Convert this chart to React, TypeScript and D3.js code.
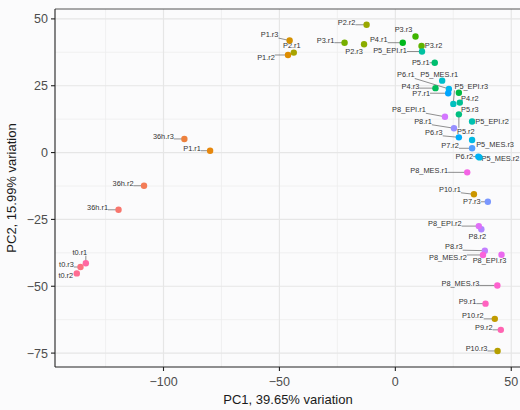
import * as d3 from "d3";
import { useEffect, useRef } from "react";

// samples, sorted the way ggplot orders them for the colour scale
const sampleIds = [
  "36h.r1", "36h.r2", "36h.r3",
  "P1.r1", "P1.r2", "P1.r3",
  "P10.r1", "P10.r2", "P10.r3",
  "P2.r1", "P2.r2", "P2.r3",
  "P3.r1", "P3.r2", "P3.r3",
  "P4.r1", "P4.r2", "P4.r3",
  "P5.r1", "P5.r2", "P5.r3",
  "P5_EPI.r1", "P5_EPI.r2", "P5_EPI.r3",
  "P5_MES.r1", "P5_MES.r2", "P5_MES.r3",
  "P6.r1", "P6.r2", "P6.r3",
  "P7.r1", "P7.r2", "P7.r3",
  "P8.r1", "P8.r2", "P8.r3",
  "P8_EPI.r1", "P8_EPI.r2", "P8_EPI.r3",
  "P8_MES.r1", "P8_MES.r2", "P8_MES.r3",
  "P9.r1", "P9.r2",
  "t0.r1", "t0.r2", "t0.r3",
];

const pc1 = [
  -119.4, -108.4, -91.0,
  -79.9, -46.3, -45.6,
  33.9, 42.9, 44.1,
  -43.8, -12.4, -13.5,
  -21.9, 11.3, 8.7,
  3.2, 27.4, 17.3,
  17.0, 27.4, 27.8,
  11.5, 33.1, 25.0,
  20.2, 36.3, 33.1,
  23.1, 35.8, 27.4,
  22.8, 33.1, 39.9,
  25.3, 37.1, 38.6,
  21.4, 36.0, 45.8,
  31.0, 37.8, 44.0,
  38.9, 45.5,
  -133.5, -137.4, -135.8,
];

const pc2 = [
  -21.4, -12.4, 5.1,
  0.7, 36.5, 41.9,
  -15.6, -62.2, -74.2,
  37.4, 47.8, 40.5,
  41.1, 39.9, 43.4,
  41.1, 22.4, 24.1,
  33.6, 14.3, 18.7,
  37.8, 11.6, 18.2,
  26.9, -1.8, 4.7,
  23.8, -1.5, 5.7,
  22.2, 1.6, -18.4,
  9.1, -28.7, -36.7,
  13.4, -27.5, -38.2,
  -7.4, -38.3, -49.7,
  -56.5, -66.3,
  -41.4, -45.2, -42.8,
];

const xTicks = [-100, -50, 0, 50];
const yTicks = [-75, -50, -25, 0, 25, 50];
const xMinor = [-125, -75, -25, 25];
const yMinor = [-62.5, -37.5, -12.5, 12.5, 37.5];
const xTitle = "PC1, 39.65% variation";
const yTitle = "PC2, 15.99% variation";

// where the repelled label sits, in px from its point (text centre)
const labelNudge: Record<string, [number, number]> = {
  "36h.r1": [-21, -2], "36h.r2": [-21, -2], "36h.r3": [-21, -2],
  "P1.r1": [-18, -2], "P1.r2": [-22, 3], "P1.r3": [-20, -6],
  "P10.r1": [-24, -5], "P10.r2": [-22, -3], "P10.r3": [-21, -2],
  "P2.r1": [-2, -7], "P2.r2": [-20, -2], "P2.r3": [-10, 7],
  "P3.r1": [-19, -2], "P3.r2": [12, 0], "P3.r3": [-12, -7],
  "P4.r1": [-24, -3], "P4.r2": [11, 6], "P4.r3": [-25, -2],
  "P5.r1": [-14, 0], "P5.r2": [7, 17], "P5.r3": [10, 7],
  "P5_EPI.r1": [-32, -1], "P5_EPI.r2": [20, 0], "P5_EPI.r3": [18, -17],
  "P5_MES.r1": [-3, -6], "P5_MES.r2": [21, 1], "P5_MES.r3": [23, 4],
  "P6.r1": [-43, -14], "P6.r2": [-14, 0], "P6.r3": [-25, -5],
  "P7.r1": [-27, 0], "P7.r2": [-22, -3], "P7.r3": [-16, 0],
  "P8.r1": [-31, -7], "P8.r2": [-4, 7], "P8.r3": [-31, -4],
  "P8_EPI.r1": [-36, -7], "P8_EPI.r2": [-34, -3], "P8_EPI.r3": [-12, 6],
  "P8_MES.r1": [-38, -2], "P8_MES.r2": [-35, 3], "P8_MES.r3": [-37, -2],
  "P9.r1": [-18, -2], "P9.r2": [-17, -2],
  "t0.r1": [-6, -11], "t0.r2": [-11, 2], "t0.r3": [-14, -3],
};

const W = 520;
const H = 410;
const FONT = "'Liberation Sans', Arial, Helvetica, sans-serif";

// ggplot's default hue palette lives in polar CIE-Luv, not Lab
function polarLuv(h: number, c = 100, l = 65) {
  const Xn = 95.047, Yn = 100, Zn = 108.883;
  const den = Xn + 15 * Yn + 3 * Zn;
  const un = (4 * Xn) / den, vn = (9 * Yn) / den;
  const rad = (h * Math.PI) / 180;
  const U = c * Math.cos(rad), V = c * Math.sin(rad);
  const Y = l > 8 ? Yn * Math.pow((l + 16) / 116, 3) : (Yn * l) / 903.3;
  const up = U / (13 * l) + un, vp = V / (13 * l) + vn;
  const X = (9 * Y * up) / (4 * vp);
  const Z = ((12 - 3 * up - 20 * vp) * Y) / (4 * vp);
  const x = X / 100, y = Y / 100, z = Z / 100;
  const lin = [
    3.2404542 * x - 1.5371385 * y - 0.4985314 * z,
    -0.969266 * x + 1.8760108 * y + 0.041556 * z,
    0.0556434 * x - 0.2040259 * y + 1.0572252 * z,
  ];
  const [r, g, b] = lin.map((v) => {
    const s = v <= 0.0031308 ? 12.92 * v : 1.055 * Math.pow(v, 1 / 2.4) - 0.055;
    return Math.round(Math.max(0, Math.min(1, s)) * 255);
  });
  return d3.rgb(r, g, b).formatHex();
}

export default function App() {
  const ref = useRef<SVGSVGElement>(null);

  useEffect(() => {
    if (!ref.current) return;
    const svg = d3.select(ref.current);
    svg.selectAll("*").remove();

    const left = 55, right = 521, top = 9, bottom = 367;
    const x = d3.scaleLinear().domain([-146.8, 54.2]).range([left, right]);
    const y = d3.scaleLinear().domain([-80.2, 53.7]).range([bottom, top]);

    const hue = d3.scaleOrdinal<string, string>()
      .domain(sampleIds)
      .range(sampleIds.map((_, i) => polarLuv(15 + (360 * i) / sampleIds.length)));

    svg.append("rect").attr("width", W).attr("height", H).attr("fill", "#fbfbfc");

    const grid = svg.append("g");
    grid.append("g").selectAll("line").data(xMinor).join("line")
      .attr("x1", (d) => x(d)).attr("x2", (d) => x(d))
      .attr("y1", top).attr("y2", bottom)
      .attr("stroke", "#ededed").attr("stroke-width", 0.8);
    grid.append("g").selectAll("line").data(yMinor).join("line")
      .attr("y1", (d) => y(d)).attr("y2", (d) => y(d))
      .attr("x1", left).attr("x2", right)
      .attr("stroke", "#ededed").attr("stroke-width", 0.8);
    grid.append("g").selectAll("line").data(xTicks).join("line")
      .attr("x1", (d) => x(d)).attr("x2", (d) => x(d))
      .attr("y1", top).attr("y2", bottom)
      .attr("stroke", "#e6e6e6").attr("stroke-width", 1.2);
    grid.append("g").selectAll("line").data(yTicks).join("line")
      .attr("y1", (d) => y(d)).attr("y2", (d) => y(d))
      .attr("x1", left).attr("x2", right)
      .attr("stroke", "#e6e6e6").attr("stroke-width", 1.2);

    // panel top edge
    svg.append("line").attr("x1", left).attr("x2", right).attr("y1", top).attr("y2", top)
      .attr("stroke", "#555").attr("stroke-width", 1);

    const pts = sampleIds.map((id, i) => ({ id, px: x(pc1[i]), py: y(pc2[i]) }));

    // labels first so we can measure them
    const labels = svg.append("g")
      .style("font-family", FONT).style("font-size", "7.4px").attr("fill", "#333");
    const segs = svg.append("g");
    const texts = labels.selectAll("text").data(pts).join("text")
      .attr("x", (d) => d.px + labelNudge[d.id][0])
      .attr("y", (d) => d.py + labelNudge[d.id][1])
      .attr("text-anchor", "middle")
      .attr("dominant-baseline", "central")
      .text((d) => d.id);

    texts.each(function (d) {
      const b = (this as SVGTextElement).getBBox();
      const cx = Math.max(b.x, Math.min(d.px, b.x + b.width));
      const cy = Math.max(b.y + 1, Math.min(d.py, b.y + b.height - 1));
      const dx = cx - d.px, dy = cy - d.py;
      const len = Math.hypot(dx, dy);
      if (len < 5) return;
      const sx = d.px + (dx / len) * 2.5, sy = d.py + (dy / len) * 2.5;
      segs.append("line")
        .attr("x1", sx).attr("y1", sy).attr("x2", cx).attr("y2", cy)
        .attr("stroke", "#444").attr("stroke-width", 0.6);
    });

    svg.append("g").selectAll("circle").data(pts).join("circle")
      .attr("cx", (d) => d.px).attr("cy", (d) => d.py).attr("r", 3.2)
      .attr("fill", (d) => hue(d.id));

    // axes
    const axis = svg.append("g").style("font-family", FONT);
    axis.append("line").attr("x1", left).attr("x2", right).attr("y1", bottom).attr("y2", bottom)
      .attr("stroke", "#222").attr("stroke-width", 1.1);
    axis.append("line").attr("x1", left).attr("x2", left).attr("y1", top).attr("y2", bottom)
      .attr("stroke", "#222").attr("stroke-width", 1.1);

    const fmt = (v: number) => (v < 0 ? "\u2212" + Math.abs(v) : String(v));
    axis.append("g").selectAll("line").data(xTicks).join("line")
      .attr("x1", (d) => x(d)).attr("x2", (d) => x(d))
      .attr("y1", bottom).attr("y2", bottom + 4)
      .attr("stroke", "#222").attr("stroke-width", 1.1);
    axis.append("g").selectAll("text").data(xTicks).join("text")
      .attr("x", (d) => x(d)).attr("y", bottom + 19)
      .attr("text-anchor", "middle").attr("fill", "#4d4d4d")
      .style("font-size", "12.5px").text(fmt);
    axis.append("g").selectAll("line").data(yTicks).join("line")
      .attr("x1", left - 4).attr("x2", left)
      .attr("y1", (d) => y(d)).attr("y2", (d) => y(d))
      .attr("stroke", "#222").attr("stroke-width", 1.1);
    axis.append("g").selectAll("text").data(yTicks).join("text")
      .attr("x", left - 7).attr("y", (d) => y(d) + 4.5)
      .attr("text-anchor", "end").attr("fill", "#4d4d4d")
      .style("font-size", "12.5px").text(fmt);

    axis.append("text")
      .attr("x", (left + right) / 2).attr("y", 404)
      .attr("text-anchor", "middle").attr("fill", "#1a1a1a")
      .style("font-size", "13px").text(xTitle);
    axis.append("text")
      .attr("transform", `translate(16,${(top + bottom) / 2}) rotate(-90)`)
      .attr("text-anchor", "middle").attr("fill", "#1a1a1a")
      .style("font-size", "13px").text(yTitle);
  }, []);

  return (
    <div style={{ position: "fixed", left: 0, top: 0 }}>
      <svg ref={ref} width={W} height={H} style={{ display: "block" }} />
    </div>
  );
}
